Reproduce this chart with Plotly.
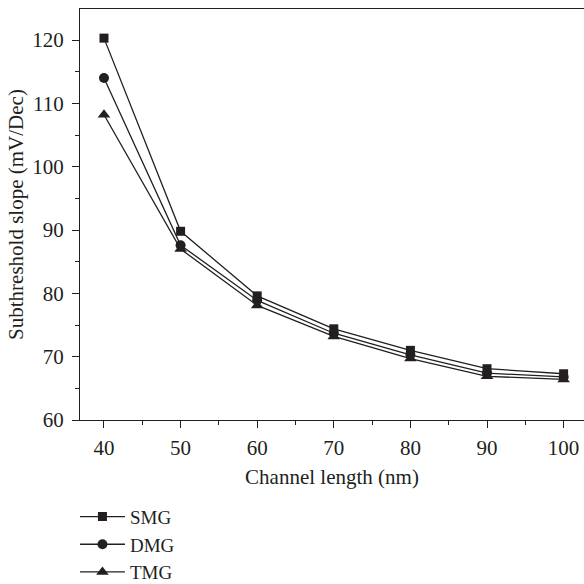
import plotly.graph_objects as go

channel_length = [40, 50, 60, 70, 80, 90, 100]
smg = [120.3, 89.8, 79.6, 74.4, 71.0, 68.1, 67.3]
dmg = [114.0, 87.6, 78.9, 73.7, 70.3, 67.4, 66.8]
tmg = [108.2, 87.0, 78.1, 73.2, 69.7, 66.9, 66.4]

series = [("SMG", smg, "square", 9), ("DMG", dmg, "circle", 10), ("TMG", tmg, "triangle-up", 11)]

ink = "#231f20"
font = "Liberation Serif"

fig = go.Figure()
for name, vals, sym, sz in series:
    fig.add_trace(go.Scatter(
        x=channel_length, y=vals, name=name, mode="lines+markers",
        line=dict(color=ink, width=1.3),
        marker=dict(symbol=sym, size=sz, color=ink),
    ))

fig.update_layout(
    width=584, height=584,
    margin=dict(l=80, r=0, t=9, b=164, autoexpand=False),
    paper_bgcolor="white", plot_bgcolor="white",
    font=dict(family=font, size=21, color=ink),
    showlegend=True,
    legend=dict(x=-0.01, y=-0.189, xanchor="left", yanchor="top",
                font=dict(family=font, size=19, color=ink),
                bgcolor="rgba(0,0,0,0)", tracegroupgap=0, itemwidth=45),
    xaxis=dict(
        range=[36.87, 102.66], tickvals=[40, 50, 60, 70, 80, 90, 100],
        showline=True, linecolor=ink, linewidth=1.3, mirror=True,
        ticks="outside", ticklen=7, tickwidth=1.3, tickcolor=ink,
        minor=dict(dtick=5, tick0=0, ticks="outside", ticklen=4, tickwidth=1.3, tickcolor=ink),
        showgrid=False, zeroline=False, automargin=True,
        ticklabelstandoff=2,
        title=dict(text="Channel length (nm)", standoff=9, font=dict(size=21)),
        tickfont=dict(size=21),
    ),
    yaxis=dict(
        range=[60, 124.9], tickvals=[60, 70, 80, 90, 100, 110, 120],
        showline=True, linecolor=ink, linewidth=1.3,
        ticks="outside", ticklen=7, tickwidth=1.3, tickcolor=ink,
        minor=dict(dtick=5, tick0=0, ticks="outside", ticklen=4, tickwidth=1.3, tickcolor=ink),
        showgrid=False, zeroline=False, automargin=True,
        ticklabelstandoff=4,
        title=dict(text="Subthreshold slope (mV/Dec)", standoff=2, font=dict(size=21)),
        tickfont=dict(size=21),
    ),
)

fig.write_html("out.html")
